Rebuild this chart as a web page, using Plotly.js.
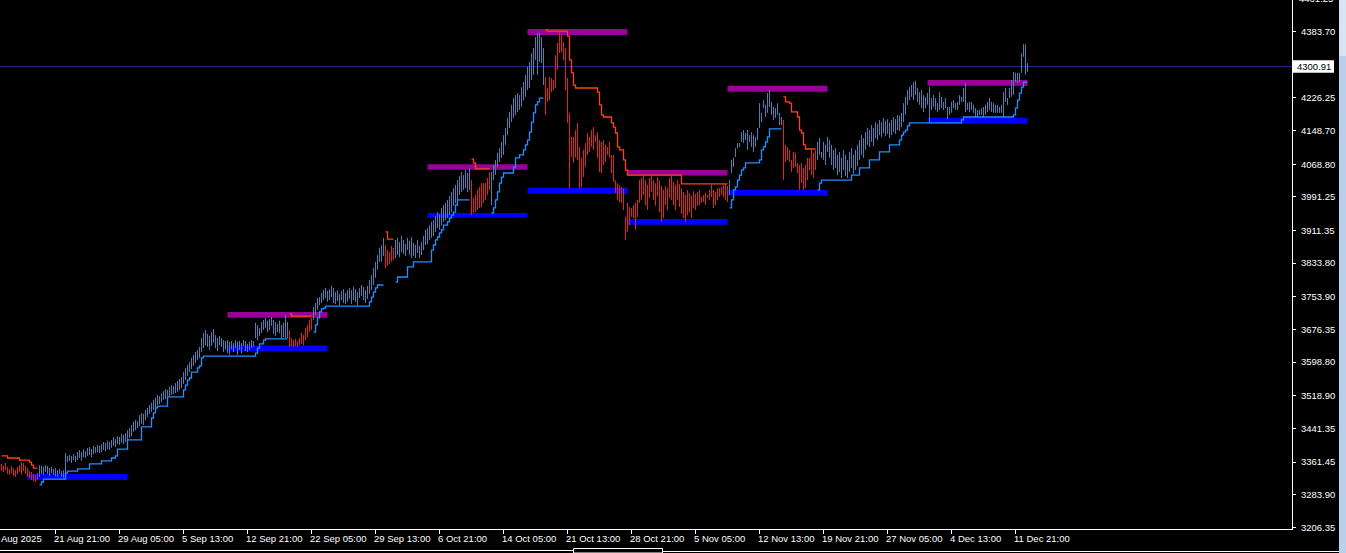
<!DOCTYPE html>
<html><head><meta charset="utf-8">
<script src="https://cdn.plot.ly/plotly-3.0.1.min.js"></script>
<style>html,body{margin:0;padding:0;background:#000;overflow:hidden}#chart{width:1346px;height:553px}</style>
</head><body><div id="chart"></div>
<script>
// ---- bar data (H4 bars, index = bar number) ----
const highs = [
3357,3352,3359,3350,3345,3352,3347,3342,3350,3354,
3361,3359,3352,3347,3340,3338,3333,3331,3335,3354,
3352,3350,3354,3352,3347,3350,3345,3347,3342,3345,
3340,3342,3383,3376,3378,3376,3380,3376,3385,3390,
3385,3392,3387,3395,3397,3392,3400,3397,3402,3400,
3404,3409,3407,3412,3409,3414,3421,3416,3423,3421,
3428,3426,3430,3437,3442,3449,3457,3461,3459,3473,
3478,3476,3485,3490,3497,3502,3509,3514,3521,3518,
3525,3530,3535,3533,3540,3544,3542,3549,3554,3559,
3563,3575,3585,3592,3599,3609,3616,3623,3628,3635,
3656,3668,3675,3666,3661,3670,3677,3663,3656,3661,
3656,3651,3649,3651,3647,3649,3644,3651,3647,3649,
3644,3651,3649,3642,3647,3651,3649,3692,3687,3680,
3694,3699,3704,3697,3701,3706,3699,3694,3689,3697,
3687,3692,3711,3694,3675,3656,3651,3654,3649,3656,
3668,3663,3680,3687,3699,3704,3730,3739,3751,3753,
3763,3770,3775,3768,3772,3780,3775,3765,3770,3761,
3768,3772,3763,3770,3775,3770,3777,3772,3765,3775,
3782,3777,3770,3780,3794,3806,3822,3837,3853,3870,
3877,3894,3877,3865,3860,3875,3870,3889,3894,3884,
3899,3889,3879,3894,3887,3896,3882,3877,3889,3875,
3884,3899,3913,3917,3924,3932,3936,3946,3955,3950,
3965,3972,3977,3984,3993,4003,4012,4020,4031,4041,
4050,4043,4055,4048,4060,4031,3989,3996,4008,4015,
4024,4024,4024,4036,4050,4050,4067,4079,4096,4107,
4122,4138,4155,4179,4193,4210,4226,4233,4238,4233,
4252,4264,4281,4300,4312,4333,4345,4371,4381,4381,
4371,4345,4276,4250,4276,4274,4269,4328,4357,4383,
4376,4359,4345,4274,4191,4134,4134,4150,4167,4110,
4084,4103,4119,4143,4134,4150,4157,4138,4145,4126,
4122,4126,4115,4110,4122,4091,4091,4031,4024,4020,
4015,4012,3944,3977,3967,3965,3972,3977,3984,4031,
4036,4041,4031,4020,4036,4043,4031,4024,4038,4031,
4017,4008,4017,4012,4036,4041,4027,4020,4031,4022,
4012,4003,3996,4008,4001,3994,4005,3998,4003,4008,
3991,3996,4001,3996,4008,4020,4008,4003,4012,4012,
4015,4020,4022,4017,4031,4079,4084,4107,4119,4119,
4145,4150,4143,4150,4138,4145,4138,4134,4155,4214,
4191,4221,4210,4238,4245,4217,4205,4202,4214,4191,
4181,4174,4115,4110,4103,4079,4098,4096,4072,4067,
4072,4060,4067,4084,4084,4103,4096,4103,4122,4131,
4098,4122,4115,4134,4126,4115,4103,4107,4091,4098,
4084,4103,4091,4079,4098,4107,4091,4103,4115,4126,
4138,4131,4145,4155,4150,4162,4155,4169,4164,4174,
4169,4179,4172,4176,4167,4174,4181,4176,4186,4184,
4191,4214,4229,4245,4252,4257,4264,4267,4250,4240,
4245,4233,4229,4238,4252,4226,4233,4226,4214,4240,
4229,4217,4226,4205,4205,4217,4221,4214,4217,4233,
4229,4250,4262,4214,4217,4217,4210,4202,4198,4198,
4202,4205,4210,4217,4226,4217,4214,4210,4210,4205,
4210,4240,4250,4226,4250,4269,4288,4286,4286,4286,
4333,4354,4354,4309];
const lows = [
3340,3338,3342,3333,3331,3335,3328,3326,3333,3338,
3331,3340,3333,3326,3324,3319,3316,3314,3319,3326,
3333,3331,3338,3333,3328,3335,3331,3328,3326,3333,
3326,3324,3335,3361,3364,3359,3366,3361,3366,3371,
3364,3373,3371,3376,3378,3373,3380,3383,3385,3383,
3385,3390,3387,3392,3390,3395,3400,3397,3404,3402,
3407,3404,3409,3414,3419,3423,3433,3437,3442,3447,
3452,3449,3461,3468,3476,3480,3485,3490,3497,3499,
3504,3509,3511,3518,3518,3521,3523,3525,3528,3533,
3537,3547,3556,3566,3575,3582,3590,3597,3604,3609,
3623,3632,3639,3635,3628,3637,3644,3632,3625,3639,
3635,3623,3628,3620,3616,3630,3623,3632,3616,3628,
3620,3637,3625,3623,3628,3632,3635,3656,3651,3661,
3668,3675,3680,3670,3675,3685,3666,3661,3670,3668,
3656,3658,3656,3656,3635,3637,3635,3637,3635,3639,
3642,3639,3651,3658,3670,3675,3699,3711,3723,3734,
3739,3746,3751,3742,3746,3753,3739,3737,3744,3734,
3746,3739,3737,3742,3749,3737,3746,3742,3734,3751,
3756,3746,3739,3749,3761,3770,3782,3799,3818,3837,
3837,3851,3822,3827,3832,3837,3841,3846,3853,3848,
3860,3856,3851,3865,3853,3846,3851,3846,3858,3846,
3853,3865,3877,3879,3889,3894,3898,3908,3917,3913,
3924,3932,3936,3941,3948,3955,3970,3977,3984,3996,
4003,4008,4012,4003,4008,3948,3953,3955,3960,3965,
3967,3977,3984,3996,4008,3972,4031,4043,4062,4074,
4084,4091,4115,4138,4155,4169,4179,4186,4193,4198,
4205,4221,4229,4245,4250,4269,4281,4316,4281,4312,
4309,4257,4186,4217,4221,4240,4245,4250,4293,4333,
4335,4316,4245,4167,4012,4086,4072,4084,4079,4012,
4015,4038,4062,4091,4098,4110,4103,4122,4084,4050,
4048,4067,4074,4091,4084,4048,4027,4001,3984,3979,
3977,3960,3889,3908,3924,3944,3941,3913,3944,3977,
3984,3996,3972,3960,3989,4003,3984,3970,3993,3955,
3932,3941,3972,3960,3989,3984,3972,3960,3984,3967,
3951,3941,3932,3948,3955,3941,3965,3960,3970,3972,
3977,3979,3972,3989,3984,3991,3965,3972,3984,3991,
3996,3991,3984,3979,3996,4048,4062,4086,4107,4110,
4122,4119,4126,4103,4122,4110,4098,4110,4126,4155,
4169,4202,4181,4191,4205,4186,4174,4179,4186,4162,
4162,4031,4074,4079,4074,4050,4060,4062,4048,4008,
4024,4008,4012,4031,4055,4043,4036,4055,4079,4091,
4084,4079,4067,4098,4084,4067,4055,4060,4043,4050,
4036,4055,4041,4036,4050,4060,4046,4055,4065,4079,
4091,4084,4103,4115,4110,4122,4112,4131,4126,4138,
4134,4143,4136,4141,4131,4138,4145,4141,4150,4148,
4157,4169,4186,4210,4221,4229,4221,4233,4217,4210,
4202,4193,4202,4210,4169,4198,4205,4198,4193,4198,
4202,4198,4202,4176,4186,4191,4202,4198,4198,4210,
4217,4217,4193,4198,4193,4198,4191,4181,4181,4186,
4186,4181,4186,4193,4198,4193,4191,4191,4191,4191,
4191,4181,4217,4210,4226,4229,4233,4264,4262,4264,
4286,4324,4281,4288];

// bars that belong to a down-trend (inclusive index ranges)
const downRanges = [[0,18],[144,155],[192,196],[235,244],[272,363],[391,407]];

// trailing support (blue) steps: bar index / level, null = gap
const supStepX = [19,20,21,32,33,38,44,50,55,57,58,63,70,75,76,77,78,83,91,92,93,94,95,98,99,100,101,127,128,129,131,132,143,null,
156,157,158,159,160,161,162,184,185,186,187,188,191,null,
197,198,203,206,215,216,217,218,219,220,221,223,224,225,226,227,228,234,null,
245,246,247,248,249,250,251,256,257,259,261,262,263,264,265,266,267,268,269,271,null,
364,365,366,367,368,369,370,371,372,379,380,381,382,383,384,390,null,
408,409,410,425,429,434,439,444,449,450,451,452,453,454,480,481,506,507,508,509,510,511,513];
const supStepY = [3307,3314,3321,3335,3340,3345,3357,3364,3371,3376,3392,3414,3445,3466,3478,3490,3494,3516,3533,3544,3556,3561,3575,3585,3590,3609,3613,3620,3632,3642,3651,3654,3654,null,
3670,3687,3704,3718,3725,3727,3732,3742,3753,3765,3775,3782,3782,null,
3789,3801,3825,3837,3865,3877,3889,3896,3906,3913,3924,3932,3941,3948,3955,3972,3984,3984,null,
3953,3965,3984,4003,4024,4038,4048,4062,4084,4091,4103,4115,4126,4145,4169,4191,4210,4217,4226,4226,null,
3965,3984,4008,4015,4031,4043,4055,4060,4072,4079,4103,4110,4122,4134,4153,4153,null,
4008,4024,4031,4043,4060,4079,4098,4115,4126,4138,4145,4150,4160,4167,4174,4181,4186,4202,4221,4238,4252,4264,4264];

// trailing resistance (red) steps
const resStepX = [0,3,9,14,15,16,18,null,
144,145,155,null,
192,193,196,null,
235,236,237,244,null,
272,273,283,284,285,286,287,298,299,300,301,305,306,307,308,309,311,312,313,340,363,null,
391,392,394,395,398,399,400,401,402,407];
const resStepY = [3376,3371,3366,3361,3354,3347,3347,null,
3713,3708,3708,null,
3908,3891,3891,null,
4081,4072,4058,4058,null,
4388,4385,4373,4316,4286,4257,4250,4240,4210,4186,4181,4167,4157,4143,4110,4103,4079,4055,4043,4022,4022,null,
4229,4217,4214,4193,4181,4150,4143,4115,4105,4105];

// period zones
const resZoneStart = [113,213,263,313,363,463];
const resZoneEnd   = [163,263,313,363,413,513];
const resZoneLow   = [3704,4056,4376,4042,4241,4255];
const resZoneHigh  = [3718,4069,4390,4055,4255,4269];
const supZoneStart = [13,113,213,263,313,363,463];
const supZoneEnd   = [63,163,263,313,363,413,513];
const supZoneLow   = [3319,3625,3942,3999,3925,3994,4165];
const supZoneHigh  = [3333,3638,3953,4013,3939,4008,4179];

const lastPrice = 4300.91;

// axis labels
const xTickIdx = [27,59,91,123,155,187,219,251,283,315,347,379,411,443,475,507];
const xTickText = ["21 Aug 21:00","29 Aug 05:00","5 Sep 13:00","12 Sep 21:00","22 Sep 05:00","29 Sep 13:00","6 Oct 21:00","14 Oct 05:00","21 Oct 13:00","28 Oct 21:00","5 Nov 05:00","12 Nov 13:00","19 Nov 21:00","27 Nov 05:00","4 Dec 13:00","11 Dec 21:00"];
const firstLabel = "Aug 2025";
const yTickVals = [4383.70,4226.25,4148.70,4068.80,3991.25,3911.35,3833.80,3753.90,3676.35,3598.80,3518.90,3441.35,3361.45,3283.90,3206.35];
const yTopCutLabel = 4461.25;

// ---- build ----
const FONT = '"Liberation Sans",Arial,sans-serif';
const FS = 9.5;
function isDown(i){ return downRanges.some(r => i >= r[0] && i <= r[1]); }
const up = {x:[], y:[]}, dn = {x:[], y:[]};
highs.forEach((h,i) => { const t = isDown(i) ? dn : up; t.x.push(i,i,null); t.y.push(h,lows[i],null); });

const traces = [
  {type:'scatter', mode:'lines', x:up.x, y:up.y, line:{color:'#4682B4', width:1}, hoverinfo:'skip', connectgaps:false},
  {type:'scatter', mode:'lines', x:dn.x, y:dn.y, line:{color:'#E3211F', width:1}, hoverinfo:'skip', connectgaps:false},
  {type:'scatter', mode:'lines', x:supStepX, y:supStepY, line:{color:'#1E90FF', width:1.3, shape:'hv'}, hoverinfo:'skip', connectgaps:false},
  {type:'scatter', mode:'lines', x:resStepX, y:resStepY, line:{color:'#FF4500', width:1.3, shape:'hv'}, hoverinfo:'skip', connectgaps:false}
];

const W = 1346, H = 553, ML = 0, MR = 54, MT = 0, MB = 24;
const PW = W - ML - MR, PH = H - MT - MB;
const px = v => v / PW;            // pixel offset -> paper x
const py = v => (PH - v) / PH;     // pixel y (from top) -> paper y

const shapes = [];
resZoneStart.forEach((s,k) => shapes.push({type:'rect', layer:'below', xref:'x', yref:'y', x0:s, x1:resZoneEnd[k], y0:resZoneLow[k], y1:resZoneHigh[k], fillcolor:'#990099', line:{width:0}}));
supZoneStart.forEach((s,k) => shapes.push({type:'rect', layer:'below', xref:'x', yref:'y', x0:s, x1:supZoneEnd[k], y0:supZoneLow[k], y1:supZoneHigh[k], fillcolor:'#0000FF', line:{width:0}}));
shapes.push({type:'line', layer:'below', xref:'paper', yref:'y', x0:0, x1:1, y0:lastPrice, y1:lastPrice, line:{color:'#28288C', width:1}});
// price box on the axis
shapes.push({type:'rect', xref:'paper', yref:'y', x0:1+px(1), x1:1+px(42), y0:lastPrice-15, y1:lastPrice+15, fillcolor:'#FFFFFF', line:{width:0}});
// window chrome
shapes.push({type:'rect', xref:'paper', yref:'paper', x0:px(1339), x1:px(1346), y0:py(553), y1:py(0), fillcolor:'#B9D1EA', line:{width:0}});
shapes.push({type:'rect', xref:'paper', yref:'paper', x0:px(1339), x1:px(1346), y0:py(56), y1:py(0), fillcolor:'#D8E5F3', line:{width:0}});
shapes.push({type:'line', xref:'paper', yref:'paper', x0:0, x1:px(573), y0:py(550.5), y1:py(550.5), line:{color:'#FFFFFF', width:1}});
shapes.push({type:'line', xref:'paper', yref:'paper', x0:px(663), x1:px(1339), y0:py(551.5), y1:py(551.5), line:{color:'#FFFFFF', width:1}});
shapes.push({type:'rect', xref:'paper', yref:'paper', x0:px(573.5), x1:px(662.5), y0:py(553), y1:py(548.5), fillcolor:'rgba(0,0,0,0)', line:{color:'#FFFFFF', width:1}});

const annotations = [];
xTickIdx.forEach((t,k) => annotations.push({xref:'x', yref:'paper', x:t, y:py(538.5), xanchor:'left', yanchor:'middle', xshift:-4, showarrow:false, text:xTickText[k], font:{family:FONT, size:FS, color:'#FFFFFF'}}));
annotations.push({xref:'paper', yref:'paper', x:0, y:py(538.5), xanchor:'left', yanchor:'middle', xshift:-1, showarrow:false, text:firstLabel, font:{family:FONT, size:FS, color:'#FFFFFF'}});
annotations.push({xref:'paper', yref:'paper', x:1, y:py(-1), xanchor:'left', yanchor:'middle', xshift:5, showarrow:false, text:yTopCutLabel.toFixed(2), font:{family:FONT, size:FS, color:'#FFFFFF'}});
annotations.push({xref:'paper', yref:'y', x:1, y:lastPrice, xanchor:'left', yanchor:'middle', xshift:3, showarrow:false, text:lastPrice.toFixed(2), font:{family:FONT, size:FS, color:'#000000'}});

const layout = {
  width:W, height:H, margin:{l:ML, r:MR, t:MT, b:MB, pad:0},
  paper_bgcolor:'#000000', plot_bgcolor:'#000000', showlegend:false,
  xaxis:{range:[-0.75, PW/2 - 0.75], showgrid:false, zeroline:false, showline:true, linecolor:'#FFFFFF', linewidth:1,
         tickmode:'array', tickvals:xTickIdx, ticks:'outside', ticklen:4, tickcolor:'#FFFFFF', tickwidth:1, showticklabels:false, fixedrange:true},
  yaxis:{range:[3202.3, 4459.0], side:'right', showgrid:false, zeroline:false, showline:true, linecolor:'#FFFFFF', linewidth:1,
         tickmode:'array', tickvals:yTickVals, ticktext:yTickVals.map(v => v.toFixed(2)), ticks:'outside', ticklen:3, tickcolor:'#FFFFFF', tickwidth:1,
         tickfont:{family:FONT, size:FS, color:'#FFFFFF'}, ticklabelstandoff:3, fixedrange:true},
  shapes:shapes, annotations:annotations
};
Plotly.newPlot('chart', traces, layout, {staticPlot:true, displayModeBar:false});
</script>
</body></html>
